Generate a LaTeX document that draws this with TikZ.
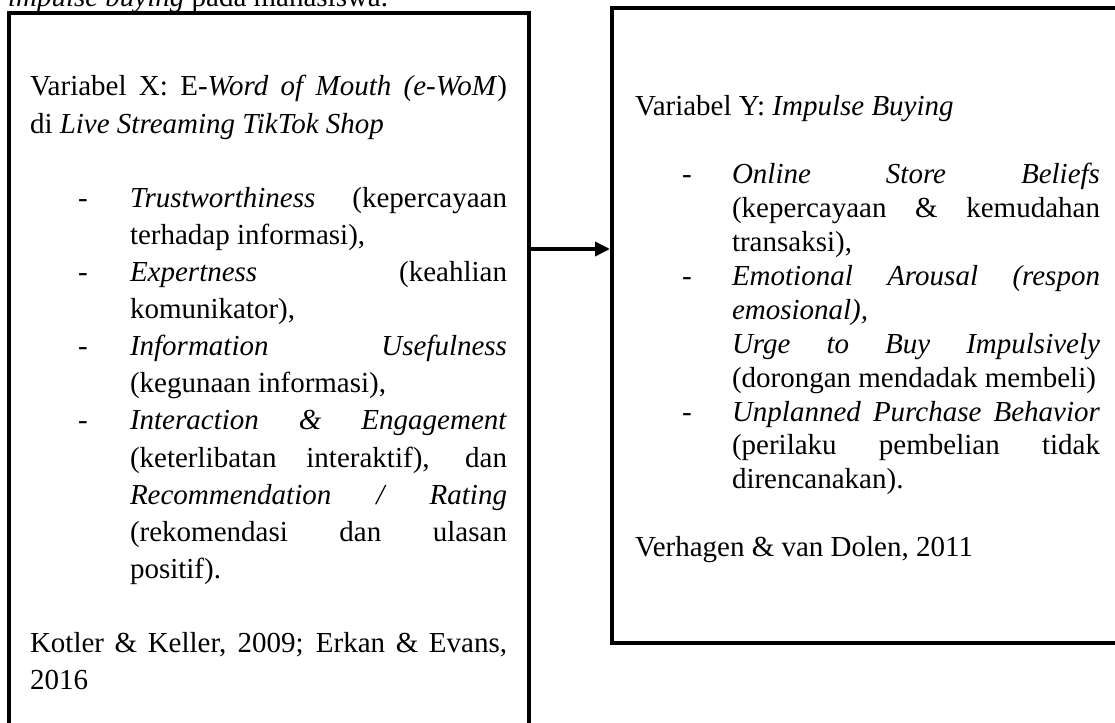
\documentclass[tikz,border=0pt]{standalone}
\usepackage{fontspec}
\setmainfont{Liberation Serif}
\usetikzlibrary{arrows.meta}
% justified line: indent, width, content
\newcommand{\JLine}[3]{\hbox{\hspace*{#1}\makebox[#2][s]{#3}}}
% natural line: indent, content
\newcommand{\NLine}[2]{\hbox{\hspace*{#1}#2}}
% dash line: text indent, dash indent, width, content
\newcommand{\DLine}[4]{\hbox{\makebox[#1][l]{\hspace*{#2}-}\makebox[#3][s]{#4}}}
\begin{document}
\begin{tikzpicture}[x=1pt,y=-1pt,
  box/.style={draw=black, line width=4pt, inner sep=0pt, outer sep=0pt, anchor=north west},
  txt/.style={anchor=base west, inner sep=0pt, outer sep=0pt, font=\fontsize{29}{34}\selectfont},
  link/.style={draw=black, line width=3.5pt, shorten >=2pt, -{Triangle[length=15pt,width=14pt]}}]
\useasboundingbox (0,0) rectangle (1115,722);
\fill[white] (0,0) rectangle (1115,722);

\node[txt] (cap) at (8,7) {\textit{impulse buying} pada mahasiswa.};

\node[box, minimum width=520pt, minimum height=740pt] (boxX) at (9,13.5) {};
\node[box, minimum width=520pt, minimum height=635pt] (boxY) at (612,8) {};

\coordinate (ay) at (0,249);
\draw[link] (boxX.east |- ay) -- (boxY.west |- ay);

\node[txt] (txtX) at (30,96) {\parbox[t]{477pt}{\fontsize{29}{37.1}\selectfont
\JLine{0pt}{477pt}{Variabel X: E-\textit{Word of Mouth (e-WoM})}
\NLine{0pt}{di \textit{Live Streaming TikTok Shop}}
\hbox{}
\DLine{100pt}{48pt}{377pt}{\textit{Trustworthiness} (kepercayaan}
\NLine{100pt}{terhadap informasi),}
\DLine{100pt}{48pt}{377pt}{\textit{Expertness} (keahlian}
\NLine{100pt}{komunikator),}
\DLine{100pt}{48pt}{377pt}{\textit{Information Usefulness}}
\NLine{100pt}{(kegunaan informasi),}
\DLine{100pt}{48pt}{377pt}{\textit{Interaction \& Engagement}}
\JLine{100pt}{377pt}{(keterlibatan interaktif), dan}
\JLine{100pt}{377pt}{\textit{Recommendation / Rating}}
\JLine{100pt}{377pt}{(rekomendasi dan ulasan}
\NLine{100pt}{positif).}
\hbox{}
\JLine{0pt}{477pt}{Kotler \& Keller, 2009; Erkan \& Evans,}
\NLine{0pt}{2016}
}};

\node[txt] (txtY) at (635,116) {\parbox[t]{465pt}{\fontsize{29}{33.9}\selectfont
\NLine{0pt}{Variabel Y: \textit{Impulse Buying}}
\hbox{}
\DLine{97pt}{47pt}{368pt}{\textit{Online Store Beliefs}}
\JLine{97pt}{368pt}{(kepercayaan \& kemudahan}
\NLine{97pt}{transaksi),}
\DLine{97pt}{47pt}{368pt}{\textit{Emotional Arousal (respon}}
\NLine{97pt}{\textit{emosional),}}
\JLine{97pt}{368pt}{\textit{Urge to Buy Impulsively}}
\NLine{97pt}{(dorongan mendadak membeli)}
\DLine{97pt}{47pt}{368pt}{\textit{Unplanned Purchase Behavior}}
\JLine{97pt}{368pt}{(perilaku pembelian tidak}
\NLine{97pt}{direncanakan).}
\hbox{}
\NLine{0pt}{Verhagen \& van Dolen, 2011}
}};
\end{tikzpicture}
\end{document}
